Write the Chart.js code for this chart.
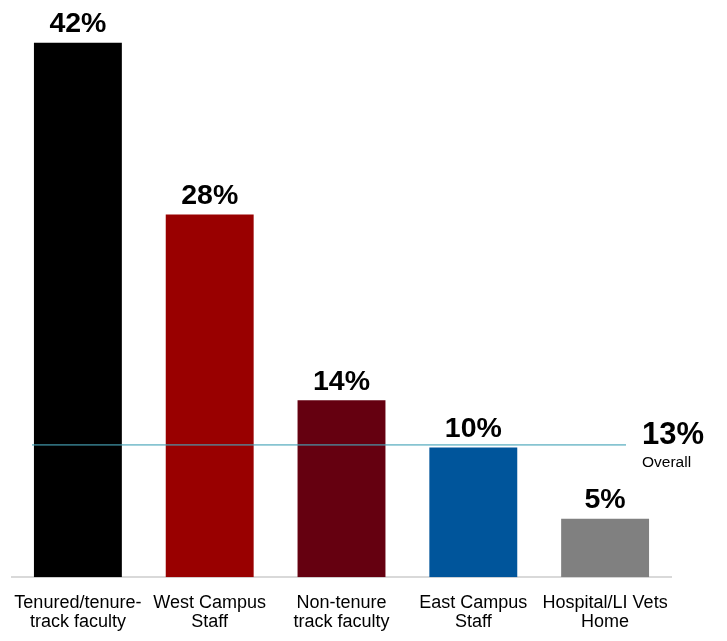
<!DOCTYPE html>
<html>
<head>
<meta charset="utf-8">
<script src="https://cdn.jsdelivr.net/npm/chart.js@4/dist/chart.umd.min.js"></script>
<style>
  html, body { margin: 0; padding: 0; background: #ffffff; }
  #wrap { width: 727px; height: 641px; position: relative; }
</style>
</head>
<body>
<div id="wrap"><canvas id="c" width="727" height="641"></canvas></div>
<script>
// ---- data ----
const categories = [
  ["Tenured/tenure-", "track faculty"],
  ["West Campus", "Staff"],
  ["Non-tenure", "track faculty"],
  ["East Campus", "Staff"],
  ["Hospital/LI Vets", "Home"]
];
const values = [42, 28.5, 13.9, 10.2, 4.6];
const valueLabels = ["42%", "28%", "14%", "10%", "5%"];
const barColors = ["#000000", "#990000", "#650010", "#00559b", "#808080"];
const overallLineValue = [10.4];
const overallLabel = ["13%", "Overall"];

const FONT = "'Liberation Sans', Arial, Helvetica, sans-serif";

const valueLabelPlugin = {
  id: 'valueLabels',
  afterDatasetsDraw(chart) {
    const ctx = chart.ctx;
    const meta = chart.getDatasetMeta(0);
    ctx.save();
    ctx.font = "bold 28.5px " + FONT;
    ctx.fillStyle = "#000000";
    ctx.textAlign = "center";
    ctx.textBaseline = "alphabetic";
    meta.data.forEach((bar, i) => {
      ctx.fillText(valueLabels[i], bar.x, bar.y - 10.5);
    });
    ctx.restore();
  }
};

const overallPlugin = {
  id: 'overallLine',
  afterDatasetsDraw(chart) {
    const ctx = chart.ctx;
    const y = chart.scales.y.getPixelForValue(overallLineValue[0]);
    const left = chart.chartArea.left + 20;
    const right = chart.chartArea.right - 45;
    ctx.save();
    ctx.strokeStyle = "rgba(70,165,185,0.65)";
    ctx.lineWidth = 1.6;
    ctx.beginPath();
    ctx.moveTo(left, y);
    ctx.lineTo(right, y);
    ctx.stroke();
    ctx.fillStyle = "#000000";
    ctx.textAlign = "left";
    ctx.textBaseline = "alphabetic";
    ctx.font = "bold 31px " + FONT;
    ctx.fillText(overallLabel[0], right + 16, y - 1);
    ctx.font = "15.5px " + FONT;
    ctx.fillText(overallLabel[1], right + 16, y + 22);
    ctx.restore();
  }
};

new Chart(document.getElementById('c'), {
  type: 'bar',
  data: {
    labels: categories,
    datasets: [{
      data: values,
      backgroundColor: barColors,
      borderWidth: 0,
      barPercentage: 0.667,
      categoryPercentage: 1.0
    }]
  },
  options: {
    responsive: false,
    animation: false,
    devicePixelRatio: 1,
    layout: { padding: { left: 12, right: 56, top: 4.5, bottom: 0 } },
    plugins: {
      legend: { display: false },
      tooltip: { enabled: false }
    },
    scales: {
      y: {
        display: false,
        min: 0,
        max: 45
      },
      x: {
        grid: { display: false, drawTicks: false },
        border: { display: true, color: "#d9d9d9", width: 2 },
        ticks: {
          color: "#000000",
          padding: 16,
          maxRotation: 0,
          autoSkip: false,
          font: { family: FONT, size: 18, lineHeight: 1.06 }
        },
        afterFit(scale) {
          scale.height = 63.7;
          scale.paddingLeft = 0;
          scale.paddingRight = 0;
        }
      }
    }
  },
  plugins: [valueLabelPlugin, overallPlugin]
});
</script>
</body>
</html>
